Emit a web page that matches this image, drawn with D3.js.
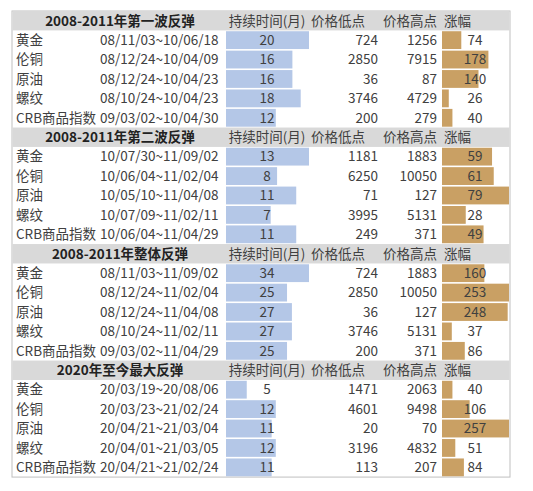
<!DOCTYPE html>
<html><head><meta charset="utf-8">
<script src="https://cdn.jsdelivr.net/npm/d3@7"></script>
<style>body{margin:0;background:#fff}</style></head>
<body><svg id="c" width="533" height="491"></svg>
<script>
const sections = ["2008-2011年第一波反弹","2008-2011年第二波反弹","2008-2011年整体反弹","2020年至今最大反弹"];
const headers = ["持续时间(月)","价格低点","价格高点","涨幅"];
const names = ["黄金","伦铜","原油","螺纹","CRB商品指数"];
const dates = [
 ["08/11/03~10/06/18","08/12/24~10/04/09","08/12/24~10/04/23","08/10/24~10/04/23","09/03/02~10/04/30"],
 ["10/07/30~11/09/02","10/06/04~11/02/04","10/05/10~11/04/08","10/07/09~11/02/11","10/06/04~11/04/29"],
 ["08/11/03~11/09/02","08/12/24~11/02/04","08/12/24~11/04/08","08/10/24~11/02/11","09/03/02~11/04/29"],
 ["20/03/19~20/08/06","20/03/23~21/02/24","20/04/21~21/03/04","20/04/01~21/03/05","20/04/21~21/02/24"]];
const durations = [[20,16,16,18,12],[13,8,11,7,11],[34,25,27,27,25],[5,12,11,12,11]];
const lows = [[724,2850,36,3746,200],[1181,6250,71,3995,249],[724,2850,36,3746,200],[1471,4601,20,3196,113]];
const highs = [[1256,7915,87,4729,279],[1883,10050,127,5131,371],[1883,10050,127,5131,371],[2063,9498,70,4832,207]];
const gains = [[74,178,140,26,40],[59,61,79,28,49],[160,253,248,37,86],[40,106,257,51,84]];
const durMax = [20,13,34,20];
const gainMax = [257,79,253,257];

const svg = d3.select("#c");
const font = "'Noto Sans CJK SC','Noto Sans',sans-serif";
const rowH = 19.42, tableTop = 11, left = 12, right = 510;
const y = i => tableTop + i*rowH;
const col = "#404040";
svg.append("rect").attr("x",left).attr("y",tableTop).attr("width",right-left).attr("height",24*rowH)
  .attr("fill","#fff").attr("stroke","#bfbfbf");
const barLayer = svg.append("g");
const textLayer = svg.append("g").attr("font-family",font).attr("font-size",13.5).attr("fill",col);
sections.forEach((s,si)=>{
  const base = si*6;
  barLayer.append("rect").attr("x",left+0.5).attr("y",y(base)).attr("width",right-left-1).attr("height",rowH).attr("fill","#d9d9d9");
  textLayer.append("text").attr("x",120).attr("y",y(base)+14.5).attr("text-anchor","middle")
    .attr("font-weight","bold").attr("fill","#222").text(s);
  const hx=[267,338,410,444], ha=["middle","middle","middle","start"];
  headers.forEach((h,hi)=>textLayer.append("text").attr("x",hx[hi]).attr("y",y(base)+14.5).attr("text-anchor",ha[hi]).text(h));
  const xd = d3.scaleLinear().domain([0,durMax[si]]).range([226,309]);
  const xg = d3.scaleLinear().domain([0,gainMax[si]]).range([442,509]);
  names.forEach((n,ri)=>{
    const ry = y(base+1+ri);
    barLayer.append("rect").attr("x",xd(0)).attr("y",ry+0.8).attr("width",xd(durations[si][ri])-xd(0)).attr("height",rowH-1.6).attr("fill","#b4c7e7");
    barLayer.append("rect").attr("x",xg(0)).attr("y",ry+0.8).attr("width",xg(gains[si][ri])-xg(0)).attr("height",rowH-1.6).attr("fill","#c9a064");
    const ty = ry+14.5;
    textLayer.append("text").attr("x",16).attr("y",ty).text(n);
    textLayer.append("text").attr("x",100).attr("y",ty).text(dates[si][ri]);
    textLayer.append("text").attr("x",267).attr("y",ty).attr("text-anchor","middle").text(durations[si][ri]);
    textLayer.append("text").attr("x",378).attr("y",ty).attr("text-anchor","end").text(lows[si][ri]);
    textLayer.append("text").attr("x",437).attr("y",ty).attr("text-anchor","end").text(highs[si][ri]);
    textLayer.append("text").attr("x",475).attr("y",ty).attr("text-anchor","middle").text(gains[si][ri]);
  });
});
</script></body></html>
